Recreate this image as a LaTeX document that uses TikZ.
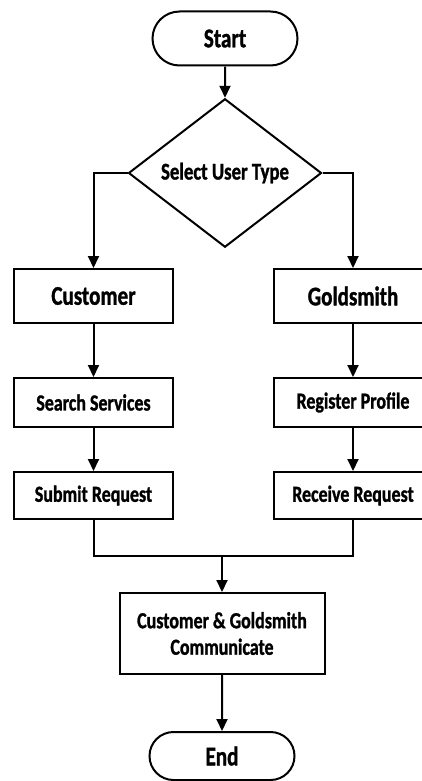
\documentclass[tikz,border=0pt]{standalone}
\usepackage{fontspec}
\newfontfamily\lbl{Carlito}[FakeStretch=0.78,FakeBold=1.2]
\usetikzlibrary{shapes.geometric,shapes.misc,arrows.meta}
\begin{document}
\begin{tikzpicture}[x=1pt,y=1pt, line width=2pt,
 box/.style={draw, rectangle, minimum width=159pt, inner sep=0pt, align=center},
 term/.style={draw, rounded rectangle, minimum width=145pt, inner sep=0pt},
 arr/.style={-{Triangle[length=12pt,width=11pt]}},
 big/.style={font=\lbl\bfseries\fontsize{27}{29}\selectfont},
 small/.style={font=\lbl\bfseries\fontsize{23}{26.5}\selectfont}]
\useasboundingbox (0,0) rectangle (422,-781);
\node[term, big, minimum height=54pt] (start) at (225,-38.5) {Start};
\node[draw, diamond, minimum width=193pt, minimum height=120pt, inner sep=0pt,
      font=\lbl\bfseries\fontsize{24}{26}\selectfont] (dec) at (225,-173) {Select User Type};
\node[box, big, minimum height=54pt] (cust) at (93.5,-296) {Customer};
\node[box, big, minimum height=54pt] (gold) at (353,-296) {Goldsmith};
\node[box, small, minimum height=49pt] (search) at (93.5,-402.5) {Search Services};
\node[box, small, minimum height=49pt] (reg) at (353,-402.5) {Register Profile};
\node[box, small, minimum height=47pt] (submit) at (93.5,-495.5) {Submit Request};
\node[box, small, minimum height=47pt] (recv) at (353,-495.5) {Receive Request};
\node[box, small, minimum width=205pt, minimum height=81pt] (comm) at (222,-633.5) {Customer \& Goldsmith\\Communicate};
\node[term, big, minimum height=48pt] (end) at (222,-756) {End};
\coordinate (m) at (222,-556);
\draw[arr] (start) -- (dec);
\draw[arr] (dec.west) -| (cust);
\draw[arr] (dec.east) -| (gold);
\draw[arr] (cust) -- (search);
\draw[arr] (gold) -- (reg);
\draw[arr] (search) -- (submit);
\draw[arr] (reg) -- (recv);
\draw (submit.south) |- (m) -| (recv.south);
\draw[arr] (m) -- (comm);
\draw[arr] (comm) -- (end);
\end{tikzpicture}
\end{document}
